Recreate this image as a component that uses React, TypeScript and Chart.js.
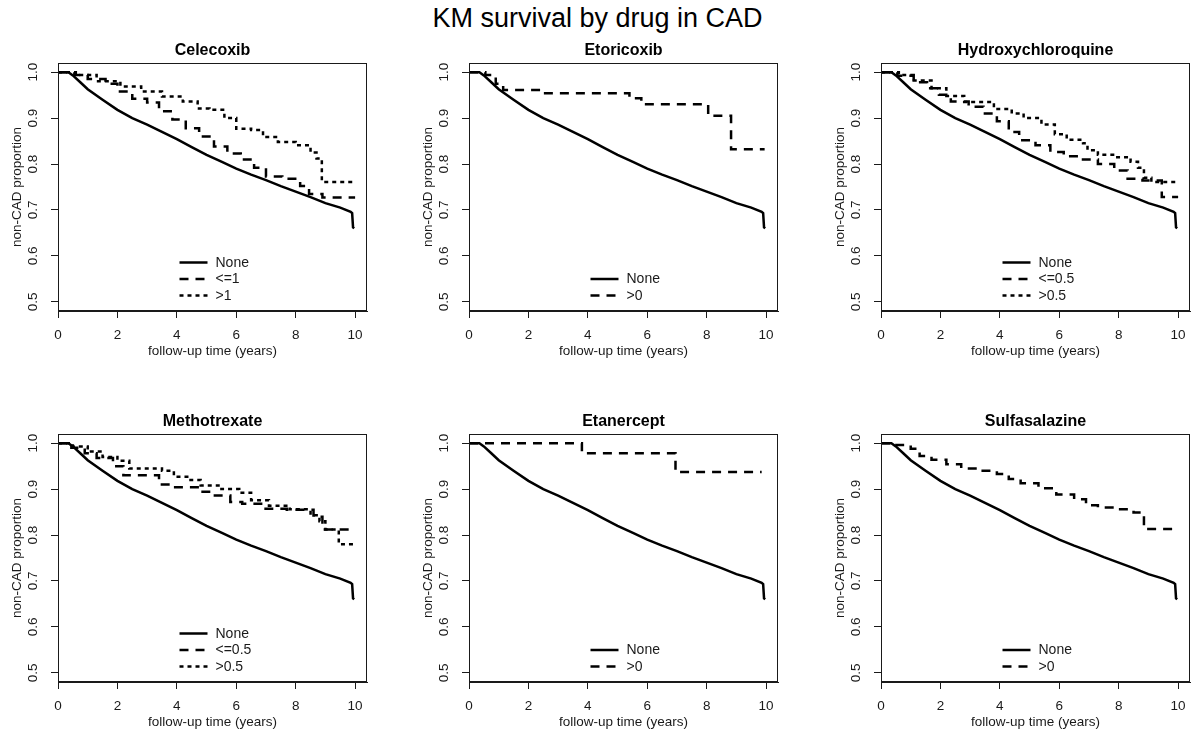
import React, { useEffect, useRef } from "react";
import { Chart, registerables } from "chart.js";

Chart.register(...registerables);

// ---------- data ----------
const mainTitle = "KM survival by drug in CAD";
const xTickValues = [0, 2, 4, 6, 8, 10];
const yTickValues = [0.5, 0.6, 0.7, 0.8, 0.9, 1.0];
const xLabel = "follow-up time (years)";
const yLabel = "non-CAD proportion";

const noneTime = [0, 0.35, 0.5, 0.75, 1, 1.5, 2, 2.5, 3, 3.5, 4, 4.5, 5, 5.5, 6, 6.5, 7, 7.5, 8, 8.5, 9, 9.5, 9.85, 9.9, 9.93, 9.97];
const noneSurv = [1, 1, 0.993, 0.978, 0.963, 0.94, 0.918, 0.9, 0.886, 0.87, 0.854, 0.837, 0.82, 0.805, 0.79, 0.777, 0.765, 0.752, 0.74, 0.728, 0.715, 0.705, 0.696, 0.693, 0.662, 0.66];

const celLowTime = [0, 0.6, 1.0, 1.6, 2.0, 2.5, 3.0, 3.4, 3.85, 4.3, 4.75, 5.25, 5.7, 6.15, 6.6, 7.0, 7.55, 8.15, 8.45, 8.9, 10];
const celLowSurv = [1, 0.994, 0.985, 0.975, 0.958, 0.942, 0.934, 0.915, 0.897, 0.878, 0.86, 0.838, 0.823, 0.81, 0.792, 0.773, 0.768, 0.752, 0.735, 0.727, 0.727];
const celHighTime = [0, 0.55, 1.3, 2.1, 2.8, 3.5, 4.2, 4.7, 5.1, 5.6, 6.0, 6.5, 6.9, 7.4, 8.0, 8.5, 8.7, 8.88, 10];
const celHighSurv = [1, 0.994, 0.98, 0.969, 0.958, 0.947, 0.936, 0.921, 0.918, 0.9, 0.877, 0.874, 0.859, 0.848, 0.841, 0.825, 0.812, 0.761, 0.761];

const etoTime = [0, 0.55, 0.9, 1.15, 2.35, 5.4, 5.8, 8.05, 8.82, 9.95];
const etoSurv = [1, 0.994, 0.975, 0.961, 0.954, 0.943, 0.93, 0.905, 0.832, 0.832];

const hcqLowTime = [0, 0.55, 1.1, 1.55, 1.95, 2.35, 2.95, 3.45, 3.9, 4.3, 4.65, 5.2, 5.7, 6.15, 6.75, 7.3, 7.85, 8.3, 8.8, 9.45, 10];
const hcqLowSurv = [1, 0.992, 0.978, 0.965, 0.951, 0.936, 0.925, 0.91, 0.893, 0.87, 0.852, 0.841, 0.826, 0.817, 0.81, 0.8, 0.786, 0.768, 0.764, 0.728, 0.728];
const hcqHighTime = [0, 0.6, 1.1, 1.7, 2.2, 2.8, 3.8, 4.4, 4.8, 5.4, 5.85, 6.25, 6.8, 6.95, 7.3, 7.9, 8.4, 8.65, 8.85, 9.1, 10];
const hcqHighSurv = [1, 0.994, 0.982, 0.965, 0.948, 0.935, 0.92, 0.91, 0.9, 0.886, 0.865, 0.853, 0.845, 0.83, 0.82, 0.815, 0.805, 0.792, 0.77, 0.761, 0.761];

const mtxLowTime = [0, 0.45, 0.9, 1.3, 1.85, 2.2, 3.4, 3.9, 4.8, 5.2, 5.8, 6.2, 6.9, 7.7, 8.6, 8.9, 10];
const mtxLowSurv = [1, 0.99, 0.978, 0.968, 0.95, 0.93, 0.91, 0.904, 0.894, 0.886, 0.872, 0.868, 0.857, 0.855, 0.84, 0.812, 0.812];
const mtxHighTime = [0, 0.5, 1.0, 1.5, 2.0, 2.4, 3.5, 3.9, 4.4, 4.8, 5.5, 6.1, 6.5, 7.1, 7.8, 8.5, 8.8, 9.0, 9.45, 10];
const mtxHighSurv = [1, 0.993, 0.982, 0.97, 0.962, 0.945, 0.94, 0.927, 0.92, 0.908, 0.9, 0.892, 0.876, 0.864, 0.856, 0.843, 0.83, 0.812, 0.78, 0.78];

const etnTime = [0, 3.8, 6.95, 9.85];
const etnSurv = [1, 0.978, 0.937, 0.937];

const sszTime = [0, 0.4, 1.0, 1.3, 1.7, 2.2, 2.7, 3.3, 3.9, 4.3, 4.7, 5.3, 5.9, 6.5, 6.9, 7.3, 8.0, 8.5, 8.85, 10];
const sszSurv = [1, 0.996, 0.988, 0.972, 0.964, 0.954, 0.945, 0.94, 0.933, 0.922, 0.913, 0.902, 0.888, 0.878, 0.865, 0.86, 0.856, 0.849, 0.813, 0.813];

// ---------- styles / layout ----------
const FONT = "'Liberation Sans', Arial, Helvetica, sans-serif";
const INK = "#1a1a1a";
const SOLID: number[] = [];
const DASHED = [9, 7];
const DOTTED = [4, 4];
const LINE_W = 2.5;
const AXIS_FS = 13.5;
const LEGEND_FS = 14;

type Group = { label: string; time: number[]; surv: number[]; dash: number[]; step: boolean };
type PanelDef = { title: string; boxLeft: number; boxTop: number; groups: Group[] };

const noneGroup = (): Group => ({ label: "None", time: noneTime, surv: noneSurv, dash: SOLID, step: false });

const panels: PanelDef[] = [
  {
    title: "Celecoxib", boxLeft: 58, boxTop: 62.5,
    groups: [noneGroup(),
      { label: "<=1", time: celLowTime, surv: celLowSurv, dash: DASHED, step: true },
      { label: ">1", time: celHighTime, surv: celHighSurv, dash: DOTTED, step: true }],
  },
  {
    title: "Etoricoxib", boxLeft: 469, boxTop: 62.5,
    groups: [noneGroup(),
      { label: ">0", time: etoTime, surv: etoSurv, dash: DASHED, step: true }],
  },
  {
    title: "Hydroxychloroquine", boxLeft: 881, boxTop: 62.5,
    groups: [noneGroup(),
      { label: "<=0.5", time: hcqLowTime, surv: hcqLowSurv, dash: DASHED, step: true },
      { label: ">0.5", time: hcqHighTime, surv: hcqHighSurv, dash: DOTTED, step: true }],
  },
  {
    title: "Methotrexate", boxLeft: 58, boxTop: 433.5,
    groups: [noneGroup(),
      { label: "<=0.5", time: mtxLowTime, surv: mtxLowSurv, dash: DASHED, step: true },
      { label: ">0.5", time: mtxHighTime, surv: mtxHighSurv, dash: DOTTED, step: true }],
  },
  {
    title: "Etanercept", boxLeft: 469, boxTop: 433.5,
    groups: [noneGroup(),
      { label: ">0", time: etnTime, surv: etnSurv, dash: DASHED, step: true }],
  },
  {
    title: "Sulfasalazine", boxLeft: 881, boxTop: 433.5,
    groups: [noneGroup(),
      { label: ">0", time: sszTime, surv: sszSurv, dash: DASHED, step: true }],
  },
];

const BOX_W = 309;
const BOX_H = 248;
const PAD_L = 60;
const PAD_T = 32;
const PAD_R = 8;
const PAD_B = 50;

const halfLine = (AXIS_FS * 1.2) / 2;
const labelHalfWidth = (AXIS_FS * 1.39) / 2;

// box + R-style legend plugin
const rDecor = {
  id: "rDecor",
  afterDraw(chart: any) {
    const { ctx, chartArea } = chart;
    const { left, right, top, bottom } = chartArea;
    ctx.save();
    ctx.strokeStyle = INK;
    ctx.lineWidth = 1;
    ctx.setLineDash([]);
    ctx.strokeRect(Math.round(left) + 0.5, Math.round(top) + 0.5, Math.round(right - left) - 1, Math.round(bottom - top) - 1);

    // legend
    const ds = chart.data.datasets;
    const n = ds.length;
    const cx = (left + right) / 2;
    const rowH = 16.5;
    ctx.font = `${LEGEND_FS}px ${FONT}`;
    ctx.textBaseline = "middle";
    ctx.textAlign = "left";
    for (let i = 0; i < n; i++) {
      const y = bottom - 15.5 - (n - 1 - i) * rowH;
      ctx.beginPath();
      ctx.lineWidth = LINE_W;
      ctx.strokeStyle = "#000";
      ctx.lineCap = "butt";
      ctx.setLineDash(ds[i].borderDash || []);
      ctx.moveTo(cx - 33, y);
      ctx.lineTo(cx - 5, y);
      ctx.stroke();
      ctx.setLineDash([]);
      ctx.fillStyle = INK;
      ctx.fillText(ds[i].label, cx + 3, y + 0.5);
    }
    ctx.restore();
  },
};

function Panel({ p }: { p: PanelDef }) {
  const ref = useRef<HTMLCanvasElement | null>(null);
  const cw = PAD_L + BOX_W + PAD_R;
  const ch = PAD_T + BOX_H + PAD_B;
  const cx = p.boxLeft - PAD_L;
  const cy = p.boxTop - PAD_T;

  useEffect(() => {
    if (!ref.current) return;
    const datasets = p.groups.map((g) => ({
      label: g.label,
      data: g.time.map((t, i) => ({ x: t, y: g.surv[i] })),
      borderColor: "#000",
      backgroundColor: "#000",
      borderWidth: LINE_W,
      borderDash: g.dash,
      borderCapStyle: "butt",
      borderJoinStyle: "miter",
      stepped: g.step ? "before" : false,
      pointRadius: 0,
      tension: 0,
      fill: false,
    }));
    const axisFont = { family: FONT, size: AXIS_FS, lineHeight: 1.2 };
    const chart = new Chart(ref.current, {
      type: "line",
      data: { datasets } as any,
      options: {
        animation: false,
        responsive: false,
        devicePixelRatio: 1,
        events: [],
        layout: { padding: { left: 0, right: PAD_R, top: 0, bottom: 0 } },
        plugins: {
          legend: { display: false },
          tooltip: { enabled: false },
          title: {
            display: true,
            text: p.title,
            fullSize: false,
            color: "#000",
            font: { family: FONT, size: 16, weight: "bold", lineHeight: 1.2 },
            padding: { top: 10.4, bottom: 2.4 },
          },
        },
        scales: {
          x: {
            type: "linear",
            min: 0,
            max: 10.4,
            afterBuildTicks: (s: any) => { s.ticks = xTickValues.map((v) => ({ value: v })); },
            afterFit: (s: any) => { s.height = PAD_B; },
            grid: { display: true, drawOnChartArea: false, drawTicks: true, tickLength: 7, color: INK, lineWidth: 1 },
            border: { display: true, color: INK, width: 1 },
            ticks: {
              autoSkip: false,
              maxRotation: 0,
              minRotation: 0,
              padding: 24.5 - 7 - halfLine,
              color: INK,
              font: axisFont,
              callback: (v: any) => String(v),
            },
            title: {
              display: true,
              text: xLabel,
              color: INK,
              font: axisFont,
              padding: { top: 0, bottom: 9.5 - halfLine },
            },
          },
          y: {
            type: "linear",
            min: 0.48,
            max: 1.02,
            afterBuildTicks: (s: any) => { s.ticks = yTickValues.map((v) => ({ value: v })); },
            afterFit: (s: any) => { s.width = PAD_L; },
            grid: { display: true, drawOnChartArea: false, drawTicks: true, tickLength: 7, color: INK, lineWidth: 1 },
            border: { display: true, color: INK, width: 1 },
            ticks: {
              autoSkip: false,
              minRotation: 90,
              maxRotation: 90,
              crossAlign: "center",
              padding: 24.5 - 7 - labelHalfWidth,
              color: INK,
              font: axisFont,
              callback: (v: any) => Number(v).toFixed(1),
            },
            title: {
              display: true,
              text: yLabel,
              color: INK,
              font: axisFont,
              padding: { top: 19.5 - halfLine, bottom: 0 },
            },
          },
        },
      } as any,
      plugins: [rDecor],
    });
    return () => chart.destroy();
  }, [p]);

  return (
    <canvas
      ref={ref}
      width={cw}
      height={ch}
      style={{ position: "absolute", left: cx, top: cy, width: cw, height: ch }}
    />
  );
}

export default function App() {
  return (
    <div
      style={{
        position: "absolute",
        left: 0,
        top: 0,
        width: 1195,
        height: 731,
        background: "#fff",
        overflow: "hidden",
      }}
    >
      <div
        style={{
          position: "absolute",
          left: 0,
          top: 0,
          width: 1195,
          textAlign: "center",
          fontFamily: FONT,
          fontSize: 27,
          lineHeight: "36px",
          color: "#000",
        }}
      >
        {mainTitle}
      </div>
      {panels.map((p) => (
        <Panel key={p.title} p={p} />
      ))}
    </div>
  );
}
